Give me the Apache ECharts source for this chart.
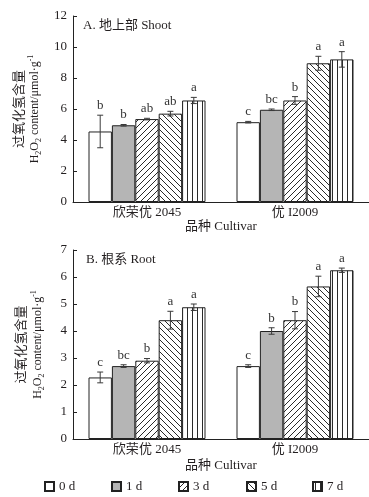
<!DOCTYPE html>
<html><head><meta charset="utf-8">
<script src="https://cdn.jsdelivr.net/npm/echarts@6/dist/echarts.min.js"></script>
<style>html,body{margin:0;padding:0;background:#fff}#c{width:369px;height:497px}</style>
</head><body><div id="c"></div>
<script>
// ---- data ----
const cultivars = ['欣荣优 2045', '优 I2009'];
const days = ['0 d', '1 d', '3 d', '5 d', '7 d'];
// values per day (rows) for each cultivar (columns)
const shootMean = [[4.55, 5.15], [4.95, 5.95], [5.35, 6.55], [5.7, 8.95], [6.55, 9.2]];
const shootErr = [[1.05, 0.05], [0.05, 0.05], [0.05, 0.25], [0.15, 0.45], [0.2, 0.5]];
const shootLetters = [['b', 'c'], ['b', 'bc'], ['ab', 'b'], ['ab', 'a'], ['a', 'a']];
const rootMean = [[2.28, 2.7], [2.7, 4.0], [2.9, 4.4], [4.4, 5.65], [4.88, 6.25]];
const rootErr = [[0.2, 0.05], [0.05, 0.12], [0.08, 0.32], [0.33, 0.38], [0.12, 0.08]];
const rootLetters = [['c', 'c'], ['bc', 'b'], ['b', 'b'], ['a', 'a'], ['a', 'a']];
const shootTicks = [0, 2, 4, 6, 8, 10, 12];
const rootTicks = [0, 1, 2, 3, 4, 5, 6, 7];

// ---- styles ----
const FF = '"Liberation Serif","Times New Roman","Noto Sans CJK SC",serif';
const TXT = '#231f20';
const BAR_W = 23.4;

function makePattern(kind) {
  const s = kind === 'vert' ? 5 : 6;
  const c = document.createElement('canvas'); c.width = s; c.height = s;
  const g = c.getContext('2d');
  g.fillStyle = '#fff'; g.fillRect(0, 0, s, s);
  g.strokeStyle = '#2a2a2a'; g.lineWidth = 1;
  g.beginPath();
  if (kind === 'fwd') {
    g.moveTo(-1, s + 1); g.lineTo(s + 1, -1);
    g.moveTo(-1, 1); g.lineTo(1, -1);
    g.moveTo(s - 1, s + 1); g.lineTo(s + 1, s - 1);
  } else if (kind === 'back') {
    g.moveTo(-1, -1); g.lineTo(s + 1, s + 1);
    g.moveTo(s - 1, -1); g.lineTo(s + 1, 1);
    g.moveTo(-1, s - 1); g.lineTo(1, s + 1);
  } else {
    g.moveTo(2.5, 0); g.lineTo(2.5, s);
  }
  g.stroke();
  return { image: c, repeat: 'repeat' };
}
const fills = ['#ffffff', '#b5b5b5', makePattern('fwd'), makePattern('back'), makePattern('vert')];

const grids = [
  { left: 73, top: 16, width: 301, height: 186 },
  { left: 73, top: 250, width: 301, height: 189 }
];
const panels = [
  { mean: shootMean, err: shootErr, letters: shootLetters, ticks: shootTicks, gap: 18 },
  { mean: rootMean, err: rootErr, letters: rootLetters, ticks: rootTicks, gap: 20 }
];

const yName = '{cn|过氧化氢含量}\n{en|H}{sub|2}{en|O}{sub|2}{en| content/μmol·g}{sup|-1}';

const xAxes = [], yAxes = [], series = [];
panels.forEach((p, k) => {
  xAxes.push({
    type: 'category', gridIndex: k, data: cultivars,
    axisLine: { lineStyle: { color: '#222', width: 1 } },
    axisTick: { show: false },
    axisLabel: { color: TXT, fontSize: 13, fontFamily: FF, margin: 4 },
    name: '品种 Cultivar', nameLocation: 'middle', nameGap: p.gap,
    nameTextStyle: { color: TXT, fontSize: 13, fontFamily: FF }
  });
  yAxes.push({
    type: 'value', gridIndex: k,
    min: p.ticks[0], max: p.ticks[p.ticks.length - 1], interval: p.ticks[1] - p.ticks[0],
    splitLine: { show: false },
    axisLine: { show: true, lineStyle: { color: '#222', width: 1 } },
    axisTick: { show: true, inside: true, length: 4, lineStyle: { color: '#222' } },
    axisLabel: { color: TXT, fontSize: 13, fontFamily: FF, margin: 6 },
    name: yName, nameLocation: 'middle', nameRotate: 90, nameGap: 27,
    nameTextStyle: {
      color: TXT, fontFamily: FF,
      rich: {
        cn: { fontSize: 13, fontFamily: FF, color: TXT, lineHeight: 16 },
        en: { fontSize: 12, fontFamily: FF, color: TXT, lineHeight: 16 },
        sub: { fontSize: 8, fontFamily: FF, color: TXT, verticalAlign: 'bottom', lineHeight: 16 },
        sup: { fontSize: 8, fontFamily: FF, color: TXT, verticalAlign: 'top', lineHeight: 16 }
      }
    }
  });
  days.forEach((d, i) => {
    series.push({
      type: 'bar', name: d, xAxisIndex: k, yAxisIndex: k,
      data: p.mean[i], barWidth: BAR_W, barGap: '0%',
      itemStyle: { color: fills[i], borderColor: '#222', borderWidth: 1 },
      emphasis: { disabled: true }, silent: true, animation: false
    });
  });
  const errData = [];
  const lettersFlat = [];
  days.forEach((d, i) => cultivars.forEach((c, ci) => {
    errData.push([ci, i, p.mean[i][ci], p.err[i][ci]]);
    lettersFlat.push(p.letters[i][ci]);
  }));
  series.push({
    type: 'custom', xAxisIndex: k, yAxisIndex: k, data: errData, z: 10, clip: false,
    silent: true, animation: false,
    renderItem: function (params, api) {
      const ci = api.value(0), di = api.value(1), m = api.value(2), e = api.value(3);
      const c = api.coord([ci, m]);
      const x = c[0] + (di - 2) * BAR_W;
      const top = api.coord([ci, m + e])[1];
      const bot = api.coord([ci, m - e])[1];
      const st = { stroke: '#3a3a3a', lineWidth: 1 };
      return {
        type: 'group', children: [
          { type: 'line', shape: { x1: x, y1: top, x2: x, y2: bot }, style: st },
          { type: 'line', shape: { x1: x - 3, y1: top, x2: x + 3, y2: top }, style: st },
          { type: 'line', shape: { x1: x - 3, y1: bot, x2: x + 3, y2: bot }, style: st },
          { type: 'text', style: { text: lettersFlat[params.dataIndex], x: x, y: top - 3, align: 'center', verticalAlign: 'bottom', fontSize: 13, fontFamily: FF, fill: '#333' } }
        ]
      };
    }
  });
});

const legendLefts = [39, 106, 173, 241, 307];
const legends = days.map((d, i) => ({
  data: [d], left: legendLefts[i], top: 475, itemWidth: 9, itemHeight: 9, itemGap: 5,
  icon: 'rect', selectedMode: false,
  textStyle: { color: TXT, fontSize: 13, fontFamily: FF }
}));

const chart = echarts.init(document.getElementById('c'), null, { renderer: 'canvas' });
chart.setOption({
  animation: false,
  backgroundColor: '#fff',
  title: [
    { text: 'A. 地上部 Shoot', left: 78, top: 14, textStyle: { color: TXT, fontSize: 13, fontWeight: 'normal', fontFamily: FF } },
    { text: 'B. 根系 Root', left: 81, top: 248, textStyle: { color: TXT, fontSize: 13, fontWeight: 'normal', fontFamily: FF } }
  ],
  grid: grids,
  xAxis: xAxes,
  yAxis: yAxes,
  legend: legends,
  series: series
});
</script></body></html>
